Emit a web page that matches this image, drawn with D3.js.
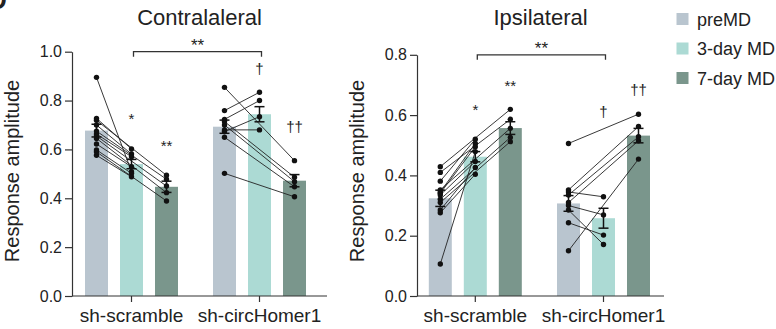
<!DOCTYPE html>
<html>
<head>
<meta charset="utf-8">
<script src="https://cdn.jsdelivr.net/npm/d3@7"></script>
<style>
body { margin: 0; background: #fff; }
svg text { font-family: "Liberation Sans", Arial, sans-serif; fill: #222; }
</style>
</head>
<body>
<div id="chart"></div>
<script>
// Groups and MD conditions
var groups = ["sh-scramble", "sh-circHomer1"];
var conditions = ["preMD", "3-day MD", "7-day MD"];

// Bar means and SEM, [group][condition]
var contraMean = [[0.677, 0.540, 0.447], [0.693, 0.744, 0.472]];
var contraSem = [[0.026, 0.019, 0.023], [0.027, 0.031, 0.025]];
var ipsiMean = [[0.324, 0.462, 0.557], [0.307, 0.258, 0.532]];
var ipsiSem = [[0.027, 0.017, 0.021], [0.026, 0.033, 0.024]];

// Individual animals, [preMD, after MD]
var contraScramble3 = [[0.895, 0.509], [0.727, 0.602], [0.700, 0.581], [0.663, 0.570], [0.622, 0.529], [0.598, 0.502], [0.576, 0.488]];
var contraScramble7 = [[0.719, 0.494], [0.675, 0.478], [0.655, 0.450], [0.645, 0.423], [0.590, 0.389]];
var contraHomer3 = [[0.759, 0.834], [0.723, 0.800], [0.673, 0.734], [0.680, 0.680]];
var contraHomer7 = [[0.854, 0.554], [0.714, 0.486], [0.700, 0.468], [0.650, 0.447], [0.502, 0.406]];
var ipsiScramble3 = [[0.381, 0.520], [0.345, 0.506], [0.341, 0.495], [0.106, 0.479], [0.335, 0.446], [0.285, 0.426], [0.276, 0.404]];
var ipsiScramble7 = [[0.429, 0.619], [0.410, 0.586], [0.352, 0.556], [0.321, 0.526], [0.310, 0.512]];
var ipsiHomer3 = [[0.345, 0.329], [0.300, 0.269], [0.285, 0.171], [0.243, 0.202]];
var ipsiHomer7 = [[0.506, 0.603], [0.352, 0.562], [0.335, 0.528], [0.310, 0.515], [0.150, 0.454]];

// Axis ticks
var contraTicks = [0, 0.2, 0.4, 0.6, 0.8, 1.0];
var ipsiTicks = [0, 0.2, 0.4, 0.6, 0.8];

// Significance marks: [group, condition, symbol, level]
var contraMarks = [[0, 1, "*", 0.741], [0, 2, "**", 0.627], [1, 1, "\u2020", 0.925], [1, 2, "\u2020\u2020", 0.688]];
var ipsiMarks = [[0, 1, "*", 0.630], [0, 2, "**", 0.707], [1, 1, "\u2020", 0.606], [1, 2, "\u2020\u2020", 0.681]];

var colors = ["#b9c5cf", "#acdad4", "#7a968c"];

var svg = d3.select("#chart").append("svg")
    .attr("width", 776)
    .attr("height", 329);

// cut-off panel letter
svg.append("text")
    .attr("x", -12).attr("y", 9)
    .style("font-size", "26px").style("font-weight", "bold")
    .text("D");

function drawPanel(cfg) {
    var g = svg.append("g");

    var y = d3.scaleLinear().domain([0, cfg.max]).range([296, cfg.top]);
    var x0 = d3.scaleBand().domain(groups).range(cfg.xRange);
    var x1 = d3.scaleBand().domain(conditions).range([-52.5, 52.5])
        .paddingInner(0.343).paddingOuter(0.1714);
    var cx = function (gi, ci) {
        return x0(groups[gi]) + x0.bandwidth() / 2 + x1(conditions[ci]) + x1.bandwidth() / 2;
    };

    // bars
    groups.forEach(function (grp, gi) {
        conditions.forEach(function (c, ci) {
            g.append("rect")
                .attr("x", cx(gi, ci) - x1.bandwidth() / 2)
                .attr("y", y(cfg.mean[gi][ci]))
                .attr("width", x1.bandwidth())
                .attr("height", y(0) - y(cfg.mean[gi][ci]))
                .attr("fill", colors[ci]);
        });
    });

    // paired lines and dots
    cfg.pairs.forEach(function (p) {
        p.data.forEach(function (d) {
            g.append("line")
                .attr("x1", cx(p.g, 0)).attr("y1", y(d[0]))
                .attr("x2", cx(p.g, p.c)).attr("y2", y(d[1]))
                .attr("stroke", "#222").attr("stroke-width", 0.9);
        });
    });
    cfg.pairs.forEach(function (p) {
        p.data.forEach(function (d) {
            g.append("circle").attr("cx", cx(p.g, 0)).attr("cy", y(d[0])).attr("r", 2.7).attr("fill", "#111");
            g.append("circle").attr("cx", cx(p.g, p.c)).attr("cy", y(d[1])).attr("r", 2.7).attr("fill", "#111");
        });
    });

    // error bars
    groups.forEach(function (grp, gi) {
        conditions.forEach(function (c, ci) {
            var m = cfg.mean[gi][ci], s = cfg.sem[gi][ci], xc = cx(gi, ci);
            var eb = g.append("g").attr("stroke", "#111").attr("stroke-width", 1.5);
            eb.append("line").attr("x1", xc).attr("x2", xc).attr("y1", y(m - s)).attr("y2", y(m + s));
            eb.append("line").attr("x1", xc - 5).attr("x2", xc + 5).attr("y1", y(m - s)).attr("y2", y(m - s));
            eb.append("line").attr("x1", xc - 5).attr("x2", xc + 5).attr("y1", y(m + s)).attr("y2", y(m + s));
        });
    });

    // y axis
    var yAxis = g.append("g")
        .attr("transform", "translate(" + cfg.axisX + ",0)")
        .call(d3.axisLeft(y).tickValues(cfg.ticks).tickFormat(d3.format(".1f"))
            .tickSize(7).tickPadding(3).tickSizeOuter(0));
    yAxis.selectAll("text").style("font-size", "16px").attr("fill", "#222");
    yAxis.selectAll("line, path").attr("stroke", "#333").attr("stroke-width", 1.2);

    // x axis
    var xAxis = g.append("g")
        .attr("transform", "translate(0,296)")
        .call(d3.axisBottom(x0).tickSize(6).tickPadding(7).tickSizeOuter(0));
    xAxis.select(".domain").remove();
    xAxis.append("line").attr("x1", cfg.axisX).attr("x2", cfg.axisEnd)
        .attr("stroke", "#333").attr("stroke-width", 1.2);
    xAxis.selectAll(".tick line").attr("stroke", "#333").attr("stroke-width", 1.2);
    xAxis.selectAll("text").style("font-size", "19px").attr("fill", "#222");

    // axis title
    g.append("text")
        .attr("transform", "translate(" + (cfg.axisX - 53) + ",171) rotate(-90)")
        .attr("text-anchor", "middle")
        .style("font-size", "20px")
        .text("Response amplitude");

    // panel title
    g.append("text")
        .attr("x", (cfg.axisX + cfg.axisEnd) / 2)
        .attr("y", 25)
        .attr("text-anchor", "middle")
        .style("font-size", "22px")
        .text(cfg.title);

    // comparison bracket
    var bx1 = cx(0, 0) + 37, bx2 = cx(1, 0) + 37, by = y(cfg.max);
    g.append("path")
        .attr("d", "M" + bx1 + "," + (by + 5) + "V" + by + "H" + bx2 + "V" + (by + 5))
        .attr("fill", "none").attr("stroke", "#333").attr("stroke-width", 1.3);
    g.append("text")
        .attr("x", (bx1 + bx2) / 2).attr("y", by - 1)
        .attr("text-anchor", "middle")
        .style("font-size", "17px")
        .text("**");

    // significance marks
    cfg.marks.forEach(function (mk) {
        var fs = 15;
        var off = mk[2].charAt(0) === "*" ? 0.57 : 0.28;
        g.append("text")
            .attr("x", cx(mk[0], mk[1]))
            .attr("y", y(mk[3]) + off * fs)
            .attr("text-anchor", "middle")
            .style("font-size", fs + "px")
            .text(mk[2]);
    });
}

drawPanel({
    title: "Contralaleral", max: 1.0, top: 51.7, ticks: contraTicks,
    xRange: [67.5, 323.5], axisX: 72, axisEnd: 327,
    mean: contraMean, sem: contraSem, marks: contraMarks,
    pairs: [
        { g: 0, c: 1, data: contraScramble3 }, { g: 0, c: 2, data: contraScramble7 },
        { g: 1, c: 1, data: contraHomer3 }, { g: 1, c: 2, data: contraHomer7 }
    ]
});

drawPanel({
    title: "Ipsilateral", max: 0.8, top: 54.8, ticks: ipsiTicks,
    xRange: [411.2, 667.6], axisX: 417, axisEnd: 664,
    mean: ipsiMean, sem: ipsiSem, marks: ipsiMarks,
    pairs: [
        { g: 0, c: 1, data: ipsiScramble3 }, { g: 0, c: 2, data: ipsiScramble7 },
        { g: 1, c: 1, data: ipsiHomer3 }, { g: 1, c: 2, data: ipsiHomer7 }
    ]
});

// legend
var legend = svg.append("g");
conditions.forEach(function (c, i) {
    legend.append("rect")
        .attr("x", 676.5).attr("y", 13 + i * 29.5)
        .attr("width", 12).attr("height", 12)
        .attr("fill", colors[i]);
    legend.append("text")
        .attr("x", 697).attr("y", 25.5 + i * 29.5)
        .style("font-size", "18px")
        .text(c);
});
</script>
</body>
</html>
